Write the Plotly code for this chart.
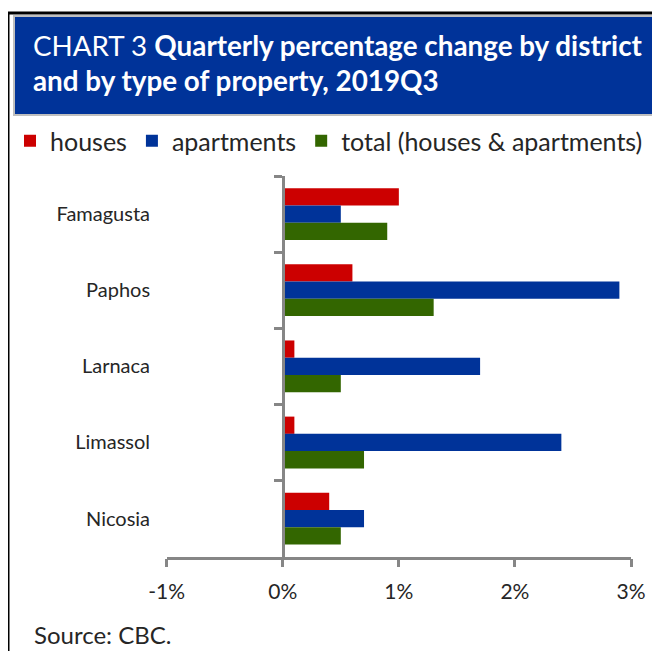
import plotly.graph_objects as go

districts = ["Famagusta", "Paphos", "Larnaca", "Limassol", "Nicosia"]
houses = [1.0, 0.6, 0.1, 0.1, 0.4]
apartments = [0.5, 2.9, 1.7, 2.4, 0.7]
total = [0.9, 1.3, 0.5, 0.7, 0.5]
series_names = ["houses", "apartments", "total (houses & apartments)"]
tick_vals = [-1, 0, 1, 2, 3]
tick_labels = ["-1%", "0%", "1%", "2%", "3%"]

# page body has an 8px margin; figure fills the rest of the 660x651 window
OFF = 8
W, H = 660 - OFF, 651 - OFF
FONT = "Lato, 'Open Sans', sans-serif"
TXT = "#262626"
AX = "#868686"
colors = ["#CC0000", "#003399", "#336600"]

fig = go.Figure()
for name, vals, c in zip(series_names, [houses, apartments, total], colors):
    fig.add_trace(go.Bar(
        y=districts, x=vals, name=name, orientation="h",
        marker=dict(color=c, line=dict(width=0)),
        hoverinfo="x+y",
    ))

def px_x(p):
    return (p - OFF) / W

def px_y(p):
    return 1 - (p - OFF) / H

fig.update_layout(
    width=W, height=H,
    template="none",
    margin=dict(l=0, r=0, t=0, b=0),
    paper_bgcolor="white", plot_bgcolor="rgba(0,0,0,0)",
    barmode="group", bargap=0.32, bargroupgap=0,
    font=dict(family=FONT, size=20, color=TXT),
    showlegend=True,
    legend=dict(
        orientation="h", x=px_x(10), y=px_y(118), xanchor="left", yanchor="top",
        font=dict(size=25, color=TXT), bgcolor="rgba(0,0,0,0)",
        traceorder="normal", itemwidth=30, tracegroupgap=0,
    ),
    xaxis=dict(
        domain=[px_x(166.7), px_x(631)], range=[-1, 3],
        tickvals=tick_vals, ticktext=tick_labels,
        showgrid=False, zeroline=False,
        showline=True, linecolor=AX, linewidth=2.5,
        ticks="outside", ticklen=8, tickwidth=2.5, tickcolor=AX,
        ticklabelstandoff=6,
        tickfont=dict(size=21, color=TXT), automargin=False,
        anchor="y", fixedrange=True,
    ),
    yaxis=dict(
        domain=[px_y(556.7), px_y(176)],
        type="category", categoryarray=districts, categoryorder="array",
        autorange="reversed",
        anchor="free", position=px_x(282.8),
        showgrid=False, zeroline=False,
        showline=True, linecolor=AX, linewidth=2.5,
        ticks="outside", ticklen=8, tickwidth=2.5, tickcolor=AX,
        tickson="boundaries",
        ticklabelstandoff=128,
        tickfont=dict(size=20, color=TXT), automargin=False, fixedrange=True,
    ),
    shapes=[
        dict(type="rect", xref="paper", yref="paper",
             x0=px_x(8), x1=px_x(720), y0=px_y(700), y1=px_y(13),
             line=dict(color="black", width=3), fillcolor="rgba(0,0,0,0)", layer="below"),
        dict(type="rect", xref="paper", yref="paper",
             x0=px_x(14), x1=px_x(720), y0=px_y(115), y1=px_y(16),
             line=dict(color="#BFBFBF", width=2), fillcolor="#003399", layer="below"),
    ],
    annotations=[
        dict(xref="paper", yref="paper", x=px_x(31), y=px_y(46), xanchor="left", yanchor="middle",
             text="CHART 3 <b>Quarterly percentage change by district</b>", showarrow=False,
             font=dict(family=FONT, size=27.8, color="white")),
        dict(xref="paper", yref="paper", x=px_x(31), y=px_y(80), xanchor="left", yanchor="middle",
             text="<b>and by type of property, 2019Q3</b>", showarrow=False,
             font=dict(family=FONT, size=27.8, color="white")),
        dict(xref="paper", yref="paper", x=px_x(32), y=px_y(634), xanchor="left", yanchor="middle",
             text="Source: CBC.", showarrow=False,
             font=dict(family=FONT, size=24, color=TXT)),
    ],
)

fig.write_html("out.html")
